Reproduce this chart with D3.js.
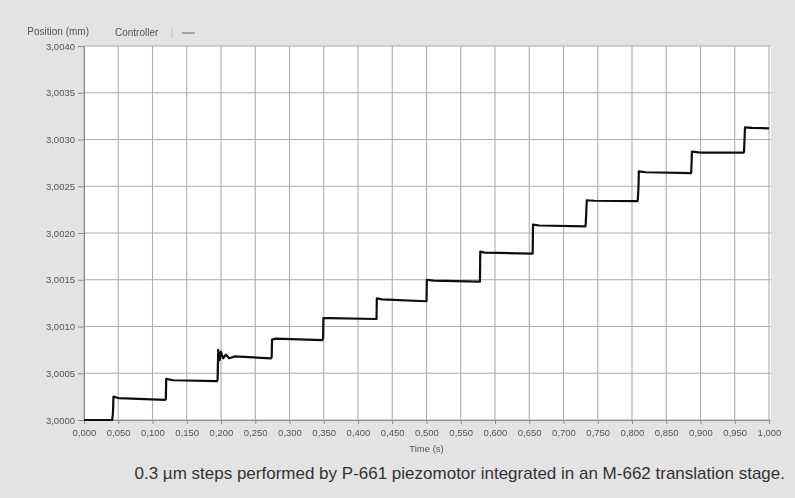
<!DOCTYPE html>
<html>
<head>
<meta charset="utf-8">
<script src="https://cdn.jsdelivr.net/npm/d3@7"></script>
<style>
  html, body { margin: 0; padding: 0; background: #e3e3e3; }
  svg { display: block; }
</style>
</head>
<body>
<script>
// Stage position trace: time (s) and measured position (mm)
const timeS = [
  0.000, 0.041, 0.042, 0.0425, 0.043, 0.050, 0.118,
  0.1195, 0.120, 0.130, 0.194,
  0.195, 0.196, 0.198, 0.200, 0.203, 0.207, 0.212, 0.220, 0.273,
  0.274, 0.2745, 0.280, 0.348,
  0.349, 0.3495, 0.360, 0.426,
  0.427, 0.4275, 0.435, 0.499,
  0.500, 0.5005, 0.510, 0.577,
  0.578, 0.5785, 0.585, 0.654,
  0.655, 0.6555, 0.665, 0.732,
  0.7325, 0.734, 0.745, 0.808,
  0.8085, 0.8095, 0.810, 0.820, 0.886,
  0.8865, 0.8875, 0.900, 0.963,
  0.9635, 0.965, 0.975, 1.000
];
const positionMm = [
  3.00000, 3.00000, 3.00005, 3.00012, 3.00025, 3.000235, 3.000215,
  3.000225, 3.00044, 3.000425, 3.000415,
  3.00043, 3.00075, 3.00064, 3.00073, 3.00066, 3.00070, 3.00066, 3.00068, 3.00066,
  3.00067, 3.00086, 3.00087, 3.000855,
  3.00087, 3.00109, 3.00109, 3.00108,
  3.00108, 3.00130, 3.00129, 3.00127,
  3.00127, 3.00150, 3.00149, 3.00148,
  3.00148, 3.00180, 3.00179, 3.00178,
  3.00178, 3.00209, 3.00208, 3.00207,
  3.00210, 3.00235, 3.002345, 3.00234,
  3.00236, 3.00250, 3.00266, 3.00265, 3.00264,
  3.00265, 3.00287, 3.00286, 3.00286,
  3.00287, 3.00313, 3.003125, 3.00312
];

const xTickValues = [0, 0.05, 0.1, 0.15, 0.2, 0.25, 0.3, 0.35, 0.4, 0.45, 0.5,
                     0.55, 0.6, 0.65, 0.7, 0.75, 0.8, 0.85, 0.9, 0.95, 1.0];
const yTickValues = [3.0000, 3.0005, 3.0010, 3.0015, 3.0020, 3.0025, 3.0030, 3.0035, 3.0040];

const yTitle = "Position (mm)";
const xTitle = "Time (s)";
const seriesName = "Controller";
const caption = "0.3 µm steps performed by P-661 piezomotor integrated in an M-662 translation stage.";

const W = 795, H = 498;
const plot = { left: 84, top: 46, right: 771, bottom: 420 };

const locale = d3.formatLocale({ decimal: ",", thousands: ".", grouping: [3], currency: ["", ""] });
const fx = locale.format(".3f");
const fy = locale.format(".4f");

const x = d3.scaleLinear().domain([0, 1]).range([plot.left, 769]);
const y = d3.scaleLinear().domain([3.0000, 3.0040]).range([plot.bottom, plot.top]);

const svg = d3.select("body").append("svg")
  .attr("width", W).attr("height", H)
  .style("font-family", "'Liberation Sans', Arial, Helvetica, sans-serif");

const defs = svg.append("defs");
defs.append("filter").attr("id", "soft")
  .append("feGaussianBlur").attr("stdDeviation", 0.55);
defs.append("filter").attr("id", "softLine")
  .append("feGaussianBlur").attr("stdDeviation", 0.4);

svg.append("rect").attr("width", W).attr("height", H).attr("fill", "#e3e3e3");

// plotting area
svg.append("rect")
  .attr("x", plot.left).attr("y", plot.top)
  .attr("width", plot.right - plot.left).attr("height", plot.bottom - plot.top)
  .attr("fill", "#ffffff");

const chart = svg.append("g");

// grid
chart.append("g")
  .selectAll("line.v").data(xTickValues).join("line")
  .attr("x1", d => x(d)).attr("x2", d => x(d))
  .attr("y1", plot.top).attr("y2", plot.bottom)
  .attr("stroke", "#adadad").attr("stroke-width", 1.1);
chart.append("g")
  .selectAll("line.h").data(yTickValues).join("line")
  .attr("x1", plot.left).attr("x2", plot.right)
  .attr("y1", d => y(d)).attr("y2", d => y(d))
  .attr("stroke", "#adadad").attr("stroke-width", 1.1);

// axes
const xAxis = d3.axisBottom(x).tickValues(xTickValues).tickFormat(fx).tickSize(4).tickPadding(5);
const yAxis = d3.axisLeft(y).tickValues(yTickValues).tickFormat(fy).tickSize(6).tickPadding(3);

const gx = chart.append("g").attr("transform", `translate(0,${plot.bottom})`).call(xAxis);
const gy = chart.append("g").attr("transform", `translate(${plot.left},0)`).call(yAxis);
[gx, gy].forEach(g => {
  g.select(".domain").attr("stroke", "#8c8c8c");
  g.selectAll(".tick line").attr("stroke", "#8c8c8c");
  g.selectAll(".tick text").attr("fill", "#555").attr("font-size", 9.5)
    .attr("filter", "url(#soft)");
});

// titles and legend
chart.append("text").attr("x", 89).attr("y", 35).attr("text-anchor", "end")
  .attr("font-size", 10).attr("fill", "#555").attr("filter", "url(#soft)").text(yTitle);
chart.append("text").attr("x", x(0.5)).attr("y", 452).attr("text-anchor", "middle")
  .attr("font-size", 9.5).attr("fill", "#555").attr("filter", "url(#soft)").text(xTitle);
chart.append("text").attr("x", 115).attr("y", 36)
  .attr("font-size", 10).attr("fill", "#555").attr("filter", "url(#soft)").text(seriesName);
chart.append("line").attr("x1", 172).attr("x2", 172).attr("y1", 29).attr("y2", 38)
  .attr("stroke", "#bbb");
chart.append("line").attr("x1", 182).attr("x2", 195).attr("y1", 33).attr("y2", 33)
  .attr("stroke", "#666").attr("stroke-width", 1);

// position trace
const pts = timeS.map((t, i) => [t, positionMm[i]]);
const line = d3.line().x(d => x(d[0])).y(d => y(d[1]));
chart.append("path").datum(pts)
  .attr("d", line)
  .attr("fill", "none")
  .attr("stroke", "#111")
  .attr("stroke-width", 2.2)
  .attr("stroke-linejoin", "round")
  .attr("filter", "url(#softLine)");

// caption
svg.append("text").attr("x", 785).attr("y", 479).attr("text-anchor", "end")
  .attr("font-size", 17).attr("fill", "#333")
  .style("font-family", "Helvetica, Arial, 'Liberation Sans', sans-serif")
  .text(caption);
</script>
</body>
</html>
